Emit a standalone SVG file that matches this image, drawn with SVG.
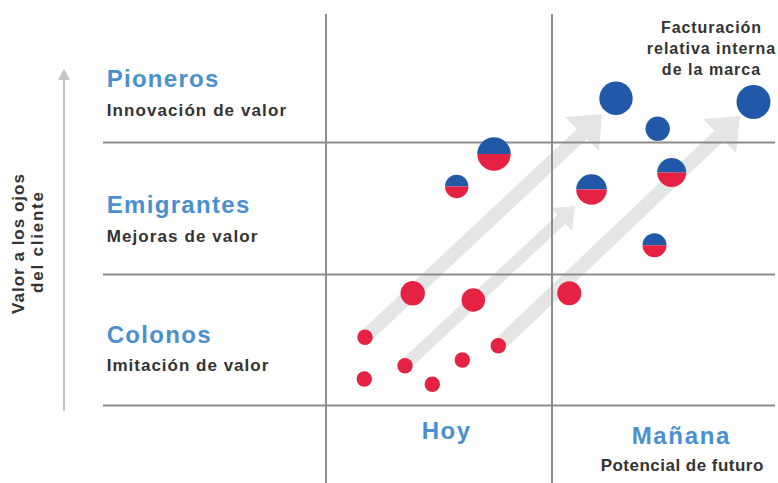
<svg xmlns="http://www.w3.org/2000/svg" width="778" height="483" viewBox="0 0 778 483">
<defs>
<style>
.grid{stroke:#8c8c8c;stroke-width:2;fill:none}
.axis{stroke:#c4c4c4;stroke-width:2;fill:none}
.shaft{stroke:#e4e5e6;fill:none}
.head{fill:#e4e5e6}
.blue{fill:#2159a8}
.red{fill:#e52243}
.h{font-family:"Liberation Sans",Arial,sans-serif;font-weight:bold;font-size:24px;fill:#4a8fce}
.s{font-family:"Liberation Sans",Arial,sans-serif;font-weight:bold;font-size:17px;fill:#333333}
.f{font-family:"Liberation Sans",Arial,sans-serif;font-weight:bold;font-size:16px;fill:#333333;text-anchor:middle}
</style>
</defs>
<rect width="778" height="483" fill="#ffffff"/>

<g id="connectors">
  <line class="shaft" x1="365" y1="337" x2="584" y2="132" stroke-width="14"/>
  <polygon class="head" points="565,117 602,114 599,151"/>
  <line class="shaft" x1="405" y1="365" x2="563" y2="218" stroke-width="12"/>
  <polygon class="head" points="551,208 575,206 572,231"/>
  <line class="shaft" x1="498" y1="346" x2="721" y2="134" stroke-width="14"/>
  <polygon class="head" points="703,119 740,116 736,153"/>
</g>

<g id="grid">
  <line class="grid" x1="326" y1="14" x2="326" y2="483"/>
  <line class="grid" x1="552" y1="14" x2="552" y2="483"/>
  <line class="grid" x1="103" y1="142.5" x2="775" y2="142.5"/>
  <line class="grid" x1="103" y1="274.5" x2="775" y2="274.5"/>
  <line class="grid" x1="103" y1="405.5" x2="775" y2="405.5"/>
</g>

<g id="y-axis">
  <line class="axis" x1="64" y1="78" x2="64" y2="411"/>
  <polygon points="64,69 58,80 70,80" fill="#c4c4c4"/>
  <text class="s" transform="translate(24,244) rotate(-90)" text-anchor="middle" textLength="140" lengthAdjust="spacing">Valor a los ojos</text>
  <text class="s" transform="translate(43,242.5) rotate(-90)" text-anchor="middle" textLength="101" lengthAdjust="spacing">del cliente</text>
</g>

<g id="pioneros">
  <text class="h" x="106.7" y="87.3" textLength="111.6" lengthAdjust="spacing">Pioneros</text>
  <text class="s" x="106.7" y="116" textLength="179.3" lengthAdjust="spacing">Innovación de valor</text>
</g>
<g id="emigrantes">
  <text class="h" x="106.7" y="213.3" textLength="142.6" lengthAdjust="spacing">Emigrantes</text>
  <text class="s" x="106.7" y="241.7" textLength="150.6" lengthAdjust="spacing">Mejoras de valor</text>
</g>
<g id="colonos">
  <text class="h" x="106.7" y="342.7" textLength="104" lengthAdjust="spacing">Colonos</text>
  <text class="s" x="106.7" y="371" textLength="161.6" lengthAdjust="spacing">Imitación de valor</text>
</g>
<g id="hoy">
  <text class="h" x="421.7" y="439.3" textLength="48.3" lengthAdjust="spacing">Hoy</text>
</g>
<g id="manana">
  <text class="h" x="631.7" y="444.3" textLength="97.6" lengthAdjust="spacing">Mañana</text>
  <text class="s" x="600.7" y="470.7" textLength="162.6" lengthAdjust="spacing">Potencial de futuro</text>
</g>
<g id="facturacion">
  <text class="f" x="711" y="33.3" textLength="100" lengthAdjust="spacing">Facturación</text>
  <text class="f" x="711" y="54" textLength="128.3" lengthAdjust="spacing">relativa interna</text>
  <text class="f" x="711" y="75" textLength="98.3" lengthAdjust="spacing">de la marca</text>
</g>

<g id="dots-blue">
  <circle class="blue" cx="616" cy="98.3" r="16.7"/>
  <circle class="blue" cx="753.5" cy="102" r="17"/>
  <circle class="blue" cx="657.7" cy="128.8" r="12.2"/>
</g>
<g id="dots-half">
  <path class="blue" d="M477.3,154 A16.7,16.7 0 0 1 510.7,154 Z"/>
  <path class="red" d="M477.3,154 A16.7,16.7 0 0 0 510.7,154 Z"/>
  <path class="blue" d="M445,186.5 A11.7,11.7 0 0 1 468.4,186.5 Z"/>
  <path class="red" d="M445,186.5 A11.7,11.7 0 0 0 468.4,186.5 Z"/>
  <path class="blue" d="M576.2,189.5 A15.3,15.3 0 0 1 606.8,189.5 Z"/>
  <path class="red" d="M576.2,189.5 A15.3,15.3 0 0 0 606.8,189.5 Z"/>
  <path class="blue" d="M657.2,172.5 A14.5,14.5 0 0 1 686.2,172.5 Z"/>
  <path class="red" d="M657.2,172.5 A14.5,14.5 0 0 0 686.2,172.5 Z"/>
  <path class="blue" d="M642.5,245.3 A12,12 0 0 1 666.5,245.3 Z"/>
  <path class="red" d="M642.5,245.3 A12,12 0 0 0 666.5,245.3 Z"/>
</g>
<g id="dots-red">
  <circle class="red" cx="412.7" cy="293.3" r="12.2"/>
  <circle class="red" cx="473.3" cy="300" r="11.8"/>
  <circle class="red" cx="569.3" cy="293.3" r="12"/>
  <circle class="red" cx="365" cy="337.3" r="7.7"/>
  <circle class="red" cx="364.3" cy="379" r="7.7"/>
  <circle class="red" cx="405" cy="365.7" r="7.7"/>
  <circle class="red" cx="432.3" cy="384.3" r="7.7"/>
  <circle class="red" cx="462.3" cy="360" r="7.7"/>
  <circle class="red" cx="498.3" cy="345.7" r="7.7"/>
</g>
</svg>
